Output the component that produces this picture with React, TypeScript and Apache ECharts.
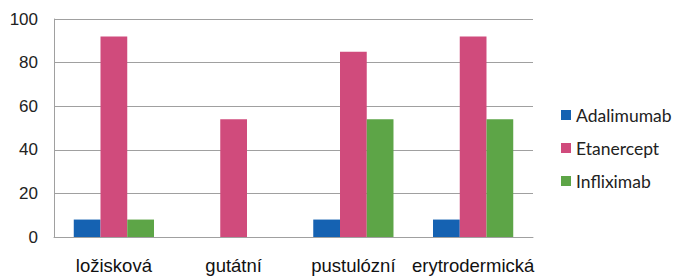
import React, { useEffect, useRef } from "react";
import * as echarts from "echarts";

const categories = ["ložisková", "gutátní", "pustulózní", "erytrodermická"];
const seriesNames = ["Adalimumab", "Etanercept", "Infliximab"];
const adalimumab = [8, null, 8, 8];
const etanercept = [92, 54, 85, 92];
const infliximab = [8, null, 54, 54];
const yTicks = { min: 0, max: 100, interval: 20 };
const colors = ["#1562B2", "#D04B7C", "#5DA547"];

export default function App() {
  const ref = useRef<HTMLDivElement>(null);
  useEffect(() => {
    if (!ref.current) return;
    const chart = echarts.init(ref.current, null, { renderer: "svg" });
    const data = [adalimumab, etanercept, infliximab];
    chart.setOption({
      animation: false,
      color: colors,
      grid: { left: 54, right: 140, top: 19, bottom: 41, containLabel: false },
      legend: {
        orient: "vertical",
        left: 556,
        top: 101,
        itemWidth: 10,
        itemHeight: 10,
        itemGap: 15,
        icon: "rect",
        data: seriesNames,
        textStyle: { fontFamily: "Lato", fontSize: 17.5, color: "#222", lineHeight: 18 },
      },
      xAxis: {
        type: "category",
        data: categories,
        axisLine: { show: true, lineStyle: { color: "#A0A0A0", width: 1 } },
        axisTick: { show: false },
        axisLabel: {
          fontFamily: "Liberation Sans",
          fontSize: 18.5,
          color: "#111",
          margin: 19,
          interval: 0,
        },
      },
      yAxis: {
        type: "value",
        min: yTicks.min,
        max: yTicks.max,
        interval: yTicks.interval,
        axisLine: { show: true, lineStyle: { color: "#A0A0A0", width: 1 } },
        axisTick: { show: false },
        splitLine: { show: true, lineStyle: { color: "#A0A0A0", width: 1 } },
        axisLabel: {
          fontFamily: "Liberation Sans",
          fontSize: 17,
          color: "#222",
          margin: 16,
        },
      },
      series: seriesNames.map((name, i) => ({
        name,
        type: "bar",
        data: data[i],
        barGap: "0%",
        barCategoryGap: "33%",
        itemStyle: { color: colors[i] },
      })),
    });
    return () => chart.dispose();
  }, []);
  return <div ref={ref} style={{ width: 673, height: 278, position: "absolute", left: 0, top: 0 }} />;
}
